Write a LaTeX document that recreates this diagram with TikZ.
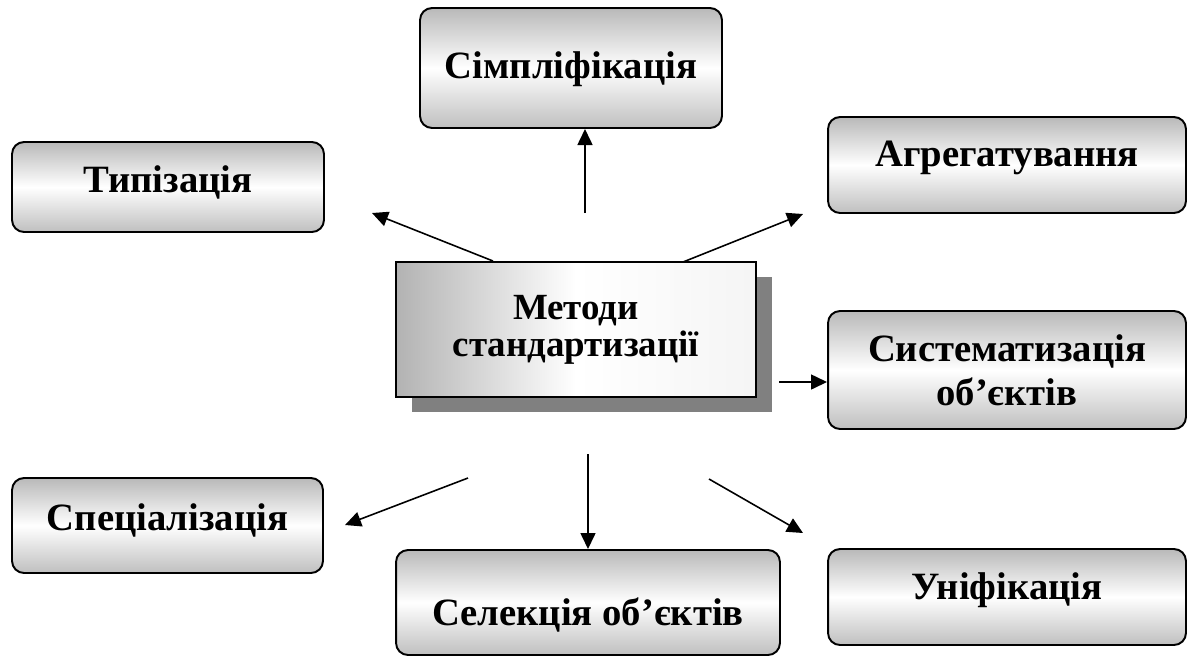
\documentclass[tikz,border=0pt]{standalone}
\usepackage{fontspec}
\setmainfont{Liberation Serif}
\usetikzlibrary{arrows.meta,calc,positioning,shadows}

\begin{document}
\begin{tikzpicture}[x=0.02cm,y=-0.02cm,>={Triangle[length=0.32cm,width=0.3cm]},
    every node/.style={font=\fontsize{22}{25}\selectfont\bfseries,align=center,inner sep=0pt},
    elem/.style={draw,line width=1.1pt,rounded corners=0.24cm,top color=gray!55,bottom color=gray!50,middle color=white},
    central/.style={draw,line width=1.1pt,left color=gray!60,right color=gray!8,middle color=white,
      drop shadow={shadow xshift=0.32cm,shadow yshift=-0.3cm,fill=gray,opacity=1}},
    lift/.style={text height=0.55cm,text depth=#1},lift/.default=0.15cm,
    sink/.style={text height=#1,text depth=0.15cm},
    conn/.style={->,draw,line width=0.9pt}]

    \useasboundingbox (0,0) rectangle (1191,657);

    \node[central,minimum width=7.2cm,minimum height=2.7cm,font=\fontsize{21}{21}\selectfont\bfseries] (METHODS) at (576,329.5) {Методи\\стандартизації};
    \node[elem,lift,minimum width=6.04cm,minimum height=2.4cm] (SIMPL) at (571,68) {Сімпліфікація};
    \node[elem,lift=0.35cm,minimum width=6.24cm,minimum height=1.8cm] (TYPIZ) at (168,187) {Типізація};
    \node[elem,lift=0.51cm,minimum width=7.16cm,minimum height=1.92cm] (AGREG) at (1007,165) {Агрегатування};
    \node[elem,minimum width=7.16cm,minimum height=2.36cm] (SYSTEM) at (1007,370) {Систематизація\\об’єктів};
    \node[elem,lift=0.35cm,minimum width=6.22cm,minimum height=1.9cm] (SPEC) at (167.5,525.5) {Спеціалізація};
    \node[elem,sink=1.07cm,minimum width=7.68cm,minimum height=2.1cm] (SELECT) at (588,602.5) {Селекція об’єктів};
    \node[elem,lift=0.47cm,minimum width=7.16cm,minimum height=1.92cm] (UNIF) at (1007,597) {Уніфікація};

    \coordinate (UP0) at (585,213);
    \coordinate (UP1) at (585,129);
    \coordinate (NW0) at (493,261);
    \coordinate (NW1) at (372,213);
    \coordinate (NE0) at (683,262);
    \coordinate (NE1) at (803,214);
    \coordinate (E0) at (779,382);
    \coordinate (E1) at (827,382);
    \coordinate (SW0) at (468,478);
    \coordinate (SW1) at (345,525);
    \coordinate (S0) at (588,454);
    \coordinate (S1) at (588,549);
    \coordinate (SE0) at (709,479);
    \coordinate (SE1) at (803,533);

    \path[conn] (UP0) -- (UP1);
    \path[conn] (NW0) -- (NW1);
    \path[conn] (NE0) -- (NE1);
    \path[conn] (E0) -- (E1);
    \path[conn] (SW0) -- (SW1);
    \path[conn] (S0) -- (S1);
    \path[conn] (SE0) -- (SE1);
  \end{tikzpicture}
\end{document}
